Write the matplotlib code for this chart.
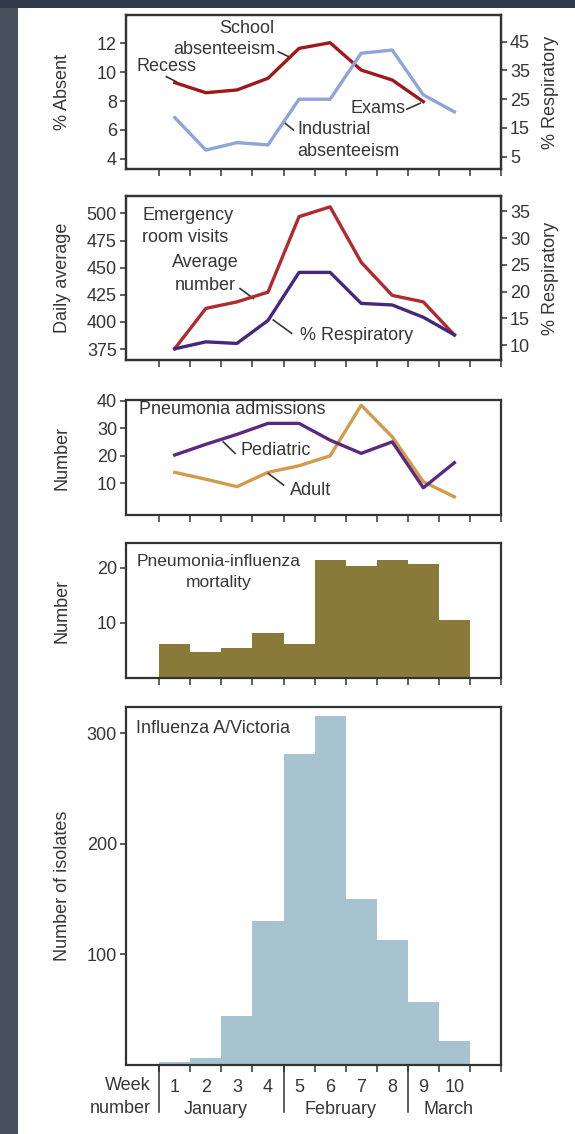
import matplotlib
matplotlib.use("Agg")
import matplotlib.pyplot as plt
import matplotlib.transforms as mtransforms
from matplotlib.patches import Rectangle
import numpy as np

# ---------------- data ----------------
weeks = [1, 2, 3, 4, 5, 6, 7, 8, 9, 10]
week_labels = ["1", "2", "3", "4", "5", "6", "7", "8", "9", "10"]
months = ["January", "February", "March"]

school_absent = [9.28, 8.58, 8.77, 9.58, 11.65, 12.04, 10.15, 9.46, 7.96]      # % absent (left)
industrial_resp = [18.6, 7.3, 9.9, 9.1, 25.0, 25.0, 41.0, 42.1, 26.5, 20.6]    # % respiratory (right)

er_average = [375.5, 412.5, 418.5, 427.5, 497.0, 506.0, 455.0, 424.5, 418.5, 388.0]
er_resp = [9.3, 10.6, 10.3, 14.6, 23.6, 23.6, 17.8, 17.5, 15.2, 11.9]

pediatric = [20.3, 24.2, 27.8, 31.8, 31.8, 25.7, 20.9, 25.1, 8.4, 17.5]
adult = [14.0, 11.5, 8.8, 14.0, 16.4, 20.0, 38.4, 26.9, 10.6, 5.1]

pi_mortality = [6.2, 4.7, 5.5, 8.2, 6.2, 21.4, 20.4, 21.4, 20.6, 10.6]

isolates = [3, 6, 44, 130, 281, 315, 150, 113, 57, 22]

# ---------------- style ----------------
FONT = "Liberation Sans"
TXT = "#363636"
FS = 13
plt.rcParams["font.family"] = [FONT, "DejaVu Sans"]
plt.rcParams["font.size"] = FS
plt.rcParams["text.color"] = TXT
plt.rcParams["axes.labelcolor"] = TXT
plt.rcParams["xtick.color"] = "#333333"
plt.rcParams["ytick.color"] = "#333333"
plt.rcParams["xtick.labelcolor"] = TXT
plt.rcParams["ytick.labelcolor"] = TXT

W, H = 575, 1134
fig = plt.figure(figsize=(W / 100, H / 100), dpi=100)
fig.patch.set_facecolor("white")
fig.patches.append(Rectangle((0, 0), 18 / W, 1, transform=fig.transFigure,
                             facecolor="#47515d", edgecolor="none", zorder=0))
fig.patches.append(Rectangle((0, 1 - 8 / H), 1, 8 / H, transform=fig.transFigure,
                             facecolor="#2f3b4b", edgecolor="none", zorder=0))

xl, xr = 126, 501
YL_LEFT = -0.147
YL_RIGHT = 1.109


def make_ax(top, bottom):
    return fig.add_axes([xl / W, 1 - bottom / H, (xr - xl) / W, (bottom - top) / H])


centers = np.array(weeks) - 0.5
bounds = np.arange(0, 12)
XLIM = (-1.07, 11)


def style_ax(ax):
    ax.set_xlim(*XLIM)
    for s in ax.spines.values():
        s.set_linewidth(1.6)
        s.set_color("#333333")
    ax.set_xticks(bounds)
    ax.set_xticklabels([])
    ax.tick_params(axis="x", direction="out", length=5, width=1.1)
    ax.tick_params(axis="y", direction="out", length=4.5, width=1.1, labelsize=FS, pad=2)


def style_right(axr):
    axr.tick_params(axis="y", direction="out", length=4.5, width=1.1, labelsize=FS, pad=2)
    for s in axr.spines.values():
        s.set_linewidth(1.6)
        s.set_color("#333333")
    axr.set_xlim(*XLIM)


LW = 2.4

# ---------- Panel 1 ----------
ax1 = make_ax(15, 169)
style_ax(ax1)
ax1.set_ylim(3.3, 13.96)
ax1.set_yticks([4, 6, 8, 10, 12])
ax1.plot(centers[:len(school_absent)], school_absent, color="#9e1a1a", lw=LW,
         solid_joinstyle="round", zorder=3)
ax1.set_ylabel("% Absent", fontsize=FS)
ax1.yaxis.set_label_coords(YL_LEFT, 0.5)
ax1r = ax1.twinx()
style_right(ax1r)
ax1r.set_ylim(0.72, 54.3)
ax1r.set_yticks([5, 15, 25, 35, 45])
ax1r.plot(centers, industrial_resp, color="#8fa4d8", lw=LW, zorder=2)
ax1r.set_ylabel("% Respiratory", fontsize=FS)
ax1r.yaxis.set_label_coords(YL_RIGHT, 0.5)

ax1.text(2.81, 13.04, "School", ha="center", va="center", fontsize=FS)
ax1.text(2.11, 11.59, "absenteeism", ha="center", va="center", fontsize=FS)
ax1.plot([3.83, 4.21], [11.42, 11.03], color=TXT, lw=1.2)
ax1.text(0.24, 10.38, "Recess", ha="center", va="center", fontsize=FS)
ax1.plot([0.23, 0.55], [9.69, 9.34], color=TXT, lw=1.2)
ax1.text(7.03, 7.5, "Exams", ha="center", va="center", fontsize=FS)
ax1.plot([7.97, 8.4], [7.44, 7.85], color=TXT, lw=1.2)
ax1.text(4.43, 6.0, "Industrial", ha="left", va="center", fontsize=FS)
ax1.text(4.43, 4.5, "absenteeism", ha="left", va="center", fontsize=FS)
ax1.plot([4.05, 4.32], [6.47, 6.0], color=TXT, lw=1.2)

# ---------- Panel 2 ----------
ax2 = make_ax(196, 360)
style_ax(ax2)
ax2.set_ylim(365, 516)
ax2.set_yticks([375, 400, 425, 450, 475, 500])
ax2.plot(centers, er_average, color="#b02a30", lw=LW, zorder=3)
ax2.set_ylabel("Daily average", fontsize=FS)
ax2.yaxis.set_label_coords(YL_LEFT, 0.5)
ax2r = ax2.twinx()
style_right(ax2r)
ax2r.set_ylim(7.2, 37.9)
ax2r.set_yticks([10, 15, 20, 25, 30, 35])
ax2r.plot(centers, er_resp, color="#45277f", lw=LW, zorder=2)
ax2r.set_ylabel("% Respiratory", fontsize=FS)
ax2r.yaxis.set_label_coords(YL_RIGHT, 0.5)

ax2.text(-0.55, 498, "Emergency", ha="left", va="center", fontsize=FS)
ax2.text(-0.55, 478, "room visits", ha="left", va="center", fontsize=FS)
ax2.text(1.47, 455, "Average", ha="center", va="center", fontsize=FS)
ax2.text(1.47, 434, "number", ha="center", va="center", fontsize=FS)
ax2.plot([2.6, 3.03], [430.8, 421.7], color=TXT, lw=1.2)
ax2.text(4.53, 388, "% Respiratory", ha="left", va="center", fontsize=FS)
ax2.plot([3.67, 4.26], [401.8, 389.6], color=TXT, lw=1.2)

# ---------- Panel 3 ----------
ax3 = make_ax(400, 515)
style_ax(ax3)
ax3.set_ylim(-1.5, 40.3)
ax3.set_yticks([10, 20, 30, 40])
ax3.plot(centers, adult, color="#d39a4a", lw=LW, zorder=2)
ax3.plot(centers, pediatric, color="#5a2a82", lw=LW, zorder=3)
ax3.set_ylabel("Number", fontsize=FS)
ax3.yaxis.set_label_coords(YL_LEFT, 0.5)
ax3.text(-0.66, 36.9, "Pneumonia admissions", ha="left", va="center", fontsize=FS)
ax3.text(2.6, 22.1, "Pediatric", ha="left", va="center", fontsize=FS)
ax3.plot([2.06, 2.44], [25.1, 20.9], color=TXT, lw=1.2)
ax3.text(4.21, 7.57, "Adult", ha="left", va="center", fontsize=FS)
ax3.plot([3.51, 4.0], [13.6, 9.4], color=TXT, lw=1.2)

# ---------- Panel 4 ----------
ax4 = make_ax(543, 678)
style_ax(ax4)
ax4.set_ylim(0, 24.5)
ax4.set_yticks([10, 20])
ax4.bar(centers, pi_mortality, width=1.0, color="#8a7a3a", edgecolor="none", zorder=2)
ax4.set_ylabel("Number", fontsize=FS)
ax4.yaxis.set_label_coords(YL_LEFT, 0.5)
ax4.text(1.92, 21.2, "Pneumonia-influenza", ha="center", va="center", fontsize=FS - 0.5)
ax4.text(1.92, 17.3, "mortality", ha="center", va="center", fontsize=FS - 0.5)

# ---------- Panel 5 ----------
ax5 = make_ax(707, 1065)
style_ax(ax5)
ax5.set_ylim(0, 323.5)
ax5.set_yticks([100, 200, 300])
ax5.bar(centers, isolates, width=1.0, color="#a6c3cf", edgecolor="none", zorder=2)
ax5.set_ylabel("Number of isolates", fontsize=FS)
ax5.yaxis.set_label_coords(YL_LEFT, 0.5)
ax5.text(-0.74, 303.9, "Influenza A/Victoria", ha="left", va="center", fontsize=FS)

ax5.set_xticks(centers, minor=True)
ax5.set_xticklabels(week_labels, minor=True, fontsize=FS)
ax5.tick_params(axis="x", which="minor", length=0, pad=10)

trans = mtransforms.blended_transform_factory(ax5.transData, ax5.transAxes)
for b in [0, 4, 8]:
    ax5.plot([b, b], [0, -0.13], transform=trans, color="#333333", lw=1.1, clip_on=False)
for m, xc in zip(months, [1.82, 5.85, 9.3]):
    ax5.text(xc, -0.124, m, transform=trans, ha="center", va="center", fontsize=FS)
ax5.text(-0.28, -0.056, "Week", transform=trans, ha="right", va="center", fontsize=FS)
ax5.text(-0.28, -0.122, "number", transform=trans, ha="right", va="center", fontsize=FS)

fig.savefig("out.png", dpi=100, facecolor=fig.get_facecolor())
